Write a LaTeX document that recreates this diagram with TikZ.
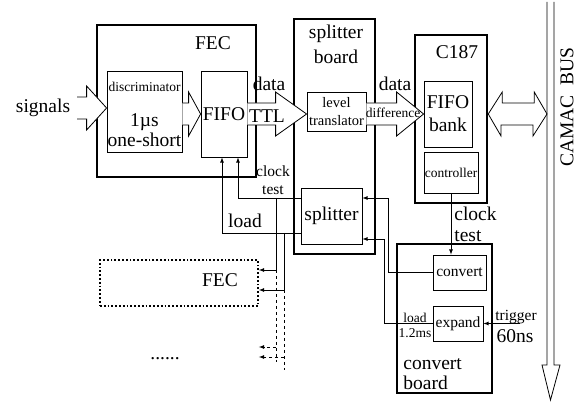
\documentclass[tikz,border=0pt]{standalone}
\usepackage{fontspec}
\setmainfont{Liberation Serif}
\usetikzlibrary{calc}

% block arrow: tail, tip, head length
\newcommand{\fatarrow}[3]{%
  \draw[fatarr] let \p1=(#1), \p2=(#2) in
    (\x1,\y2+11pt) -- (\x2-#3pt,\y2+11pt) -- (\x2-#3pt,\y2+22pt) -- (\x2,\y2)
    -- (\x2-#3pt,\y2-22pt) -- (\x2-#3pt,\y2-11pt) -- (\x1,\y2-11pt);}

\begin{document}
\begin{tikzpicture}[x=1pt,y=-1pt, >=latex, line width=0.8pt,
  board/.style={draw, line width=2.5pt, inner sep=0pt},
  unit/.style={draw, line width=0.8pt, inner sep=0pt, align=center},
  lbl/.style={inner sep=0pt, font=\fontsize{19.5}{22}\selectfont},
  midlbl/.style={inner sep=0pt, font=\fontsize{15.5}{17}\selectfont},
  smalllbl/.style={inner sep=0pt, font=\fontsize{13.5}{15}\selectfont},
  fatarr/.style={draw, fill=white, line width=0.8pt}]
\useasboundingbox (0,0) rectangle (587,403);

% boards
\node[board, minimum width=159pt, minimum height=152pt] (fec) at (176.5,101) {};
\node[board, minimum width=81pt, minimum height=235pt] (sboard) at (334.5,136.5) {};
\node[board, minimum width=72pt, minimum height=168pt] (c187) at (451,119) {};
\node[board, minimum width=95pt, minimum height=149pt] (cboard) at (444.5,318.5) {};
\node[draw, dotted, line width=1.8pt, minimum width=158pt, minimum height=46pt] (fec2) at (179,283) {};

% units
\node[unit, minimum width=75pt, minimum height=81pt] (disc) at (144.5,111.5) {};
\node[unit, minimum width=46pt, minimum height=86pt, font=\fontsize{19.5}{22}\selectfont] (fifo) at (224,114) {FIFO};
\node[unit, minimum width=59pt, minimum height=39pt, font=\fontsize{14.5}{18}\selectfont] (lt) at (336.5,111.5) {level\\translator};
\node[unit, minimum width=48pt, minimum height=66pt, font=\fontsize{19.5}{23}\selectfont] (fbank) at (448,114) {FIFO\\bank};
\node[unit, minimum width=54pt, minimum height=41pt, font=\fontsize{13.5}{15}\selectfont] (ctrl) at (451,172.5) {controller};
\node[unit, minimum width=61pt, minimum height=56pt, font=\fontsize{19.5}{22}\selectfont] (spl) at (331.5,216) {splitter};
\node[unit, minimum width=53pt, minimum height=35pt, font=\fontsize{15.5}{17}\selectfont] (conv) at (459.5,272.5) {convert};
\node[unit, minimum width=50pt, minimum height=35pt, font=\fontsize{15.5}{17}\selectfont] (expd) at (458,323.5) {expand};

% data path
\coordinate (sig) at (77,108);
\fatarrow{sig}{sig -| disc.west}{20}
\fatarrow{disc.east}{fifo.west}{12}
\fatarrow{fifo.east}{lt.west |- fifo.east}{31}
\fatarrow{lt.east}{fbank.west}{27}
\coordinate (busin) at (547,114);
\draw[fatarr] (c187.east |- fbank.east) -- ++(14,-22) -- ++(0,11) -- ++(32,0) -- ++(0,-11)
  -- (busin) -- ++(-14,22) -- ++(0,-11) -- ++(-32,0) -- ++(0,11) -- cycle;

% CAMAC bus
\draw (547,2) -- (547,365) -- (542,365) -- (550.5,400) -- (560,365) -- (554,365) -- (554,2);

% clock / load lines
\coordinate (ct) at (238,198);
\coordinate (ld) at (222,233);
\draw[->] (ct -| spl.west) -- (ct) -- (ct |- fifo.south);
\draw[->] (ld -| spl.west) -- (ld) -- (ld |- fifo.south);
\coordinate (v1) at (276,270);
\coordinate (v2) at (284,290);
\draw[->] (v1 |- ct) -- (v1) -- (v1 -| fec2.east);
\draw[->] (v2 |- ld) -- (v2) -- (v2 -| fec2.east);
\draw[dashed] (v1) -- (276,362);
\draw[dashed] (v2) -- (284,370);
\coordinate (w1) at (276,347);
\coordinate (w2) at (284,357);
\draw[dashed,->] (w1) -- (w1 -| fec2.east);
\draw[dashed,->] (w2) -- (w2 -| fec2.east);

\coordinate (r1) at (388,198);
\coordinate (r2) at (384,239);
\draw[->] (conv.west) -| (r1) -- (r1 -| spl.east);
\draw[->] (expd.west) -| (r2) -- (r2 -| spl.east);
\draw[->] (ctrl.south) -- (ctrl.south |- conv.north);
\coordinate (trig) at (520,323.5);
\draw[->] (trig) -- (expd.east);

% labels
\node[lbl] (feclbl) at (213,43) {FEC};
\node[smalllbl] (disclbl) at (144.5,87) {discriminator};
\node[lbl] (uslbl) at (144.5,122) {1µs};
\node[lbl] (oslbl) at (144.5,140) {one-short};
\node[lbl] (siglbl) at (43,108) {signals};
\node[lbl] (d1lbl) at (269,84) {data};
\node[lbl] (ttllbl) at (267,116) {TTL};
\node[lbl] (sb1) at (336,34) {splitter};
\node[lbl] (sb2) at (336,57) {board};
\node[lbl] (d2lbl) at (395,84) {data};
\node[smalllbl] (difflbl) at (393,113) {difference};
\node[lbl] (c187lbl) at (457,52) {C187};
\node[midlbl] (ck1) at (273,171) {clock};
\node[midlbl] (ts1) at (273,190) {test};
\node[lbl, anchor=west] (ck2) at (454,214) {clock};
\node[lbl, anchor=west] (ts2) at (454,236) {test};
\node[lbl] (ld1) at (245,221) {load};
\node[smalllbl] (ld2) at (415,318) {load};
\node[smalllbl] (ms) at (415,333) {1.2ms};
\node[midlbl] (trlbl) at (516,317) {trigger};
\node[lbl] (nslbl) at (515,336) {60ns};
\node[lbl, anchor=west] (cb1) at (403,364) {convert};
\node[lbl, anchor=west] (cb2) at (403,383) {board};
\node[lbl] (fec2lbl) at (220,280) {FEC};
\node[lbl] (dots) at (165,359) {......};
\node[lbl, rotate=90] (buslbl) at (567,107) {CAMAC\ \ BUS};
\end{tikzpicture}
\end{document}
